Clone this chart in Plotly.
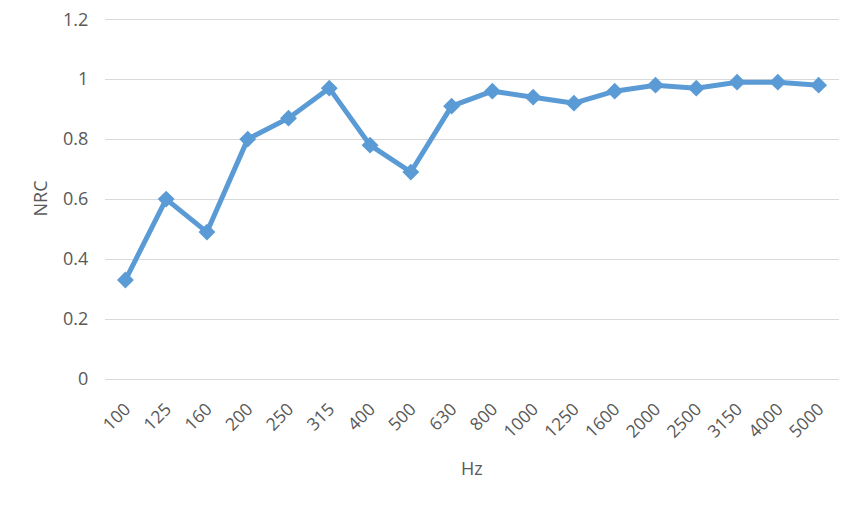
import plotly.graph_objects as go

freqs = ["100", "125", "160", "200", "250", "315", "400", "500", "630", "800",
         "1000", "1250", "1600", "2000", "2500", "3150", "4000", "5000"]
nrc = [0.33, 0.60, 0.49, 0.80, 0.87, 0.97, 0.78, 0.69, 0.91, 0.96,
       0.94, 0.92, 0.96, 0.98, 0.97, 0.99, 0.99, 0.98]
y_ticks = [0, 0.2, 0.4, 0.6, 0.8, 1, 1.2]
y_ticktext = ["0", "0.2", "0.4", "0.6", "0.8", "1", "1.2"]
x_title = "Hz"
y_title = "NRC"

font_family = "Open Sans, Liberation Sans, sans-serif"
text_color = "#595959"
grid_color = "#D9D9D9"

fig = go.Figure()
fig.add_trace(go.Scatter(
    x=freqs, y=nrc, mode="lines+markers",
    line=dict(color="#5B9BD5", width=5),
    marker=dict(symbol="diamond", size=13, color="#5B9BD5"),
    showlegend=False,
))

fig.update_layout(
    width=860, height=505,
    margin=dict(l=97, r=29, t=10, b=134),
    paper_bgcolor="white", plot_bgcolor="white",
    font=dict(family=font_family, size=16, color=text_color),
    xaxis=dict(
        type="category",
        automargin=False,
        range=[-0.5, len(freqs) - 0.5],
        tickangle=-45,
        tickfont=dict(size=17.5, color=text_color),
        showgrid=False,
        showline=True, linecolor=grid_color, linewidth=1,
        ticks="outside", ticklen=12, tickcolor="rgba(0,0,0,0)",
    ),
    yaxis=dict(
        automargin=False,
        range=[0, 1.204],
        tickmode="array", tickvals=y_ticks, ticktext=y_ticktext,
        tickfont=dict(size=18, color=text_color),
        ticklabeloverflow="allow",
        showgrid=True, gridcolor=grid_color, gridwidth=1,
        zeroline=False,
        ticks="outside", ticklen=12, tickcolor="rgba(0,0,0,0)",
    ),
    annotations=[
        dict(text=x_title, xref="paper", yref="paper", x=0.5, y=-0.247,
             showarrow=False, xanchor="center", yanchor="middle",
             font=dict(size=18, color=text_color)),
        dict(text=y_title, xref="paper", yref="paper", x=-0.0886, y=0.5,
             showarrow=False, xanchor="center", yanchor="middle", textangle=-90,
             font=dict(size=18, color=text_color)),
    ],
)

fig.write_html("out.html")
